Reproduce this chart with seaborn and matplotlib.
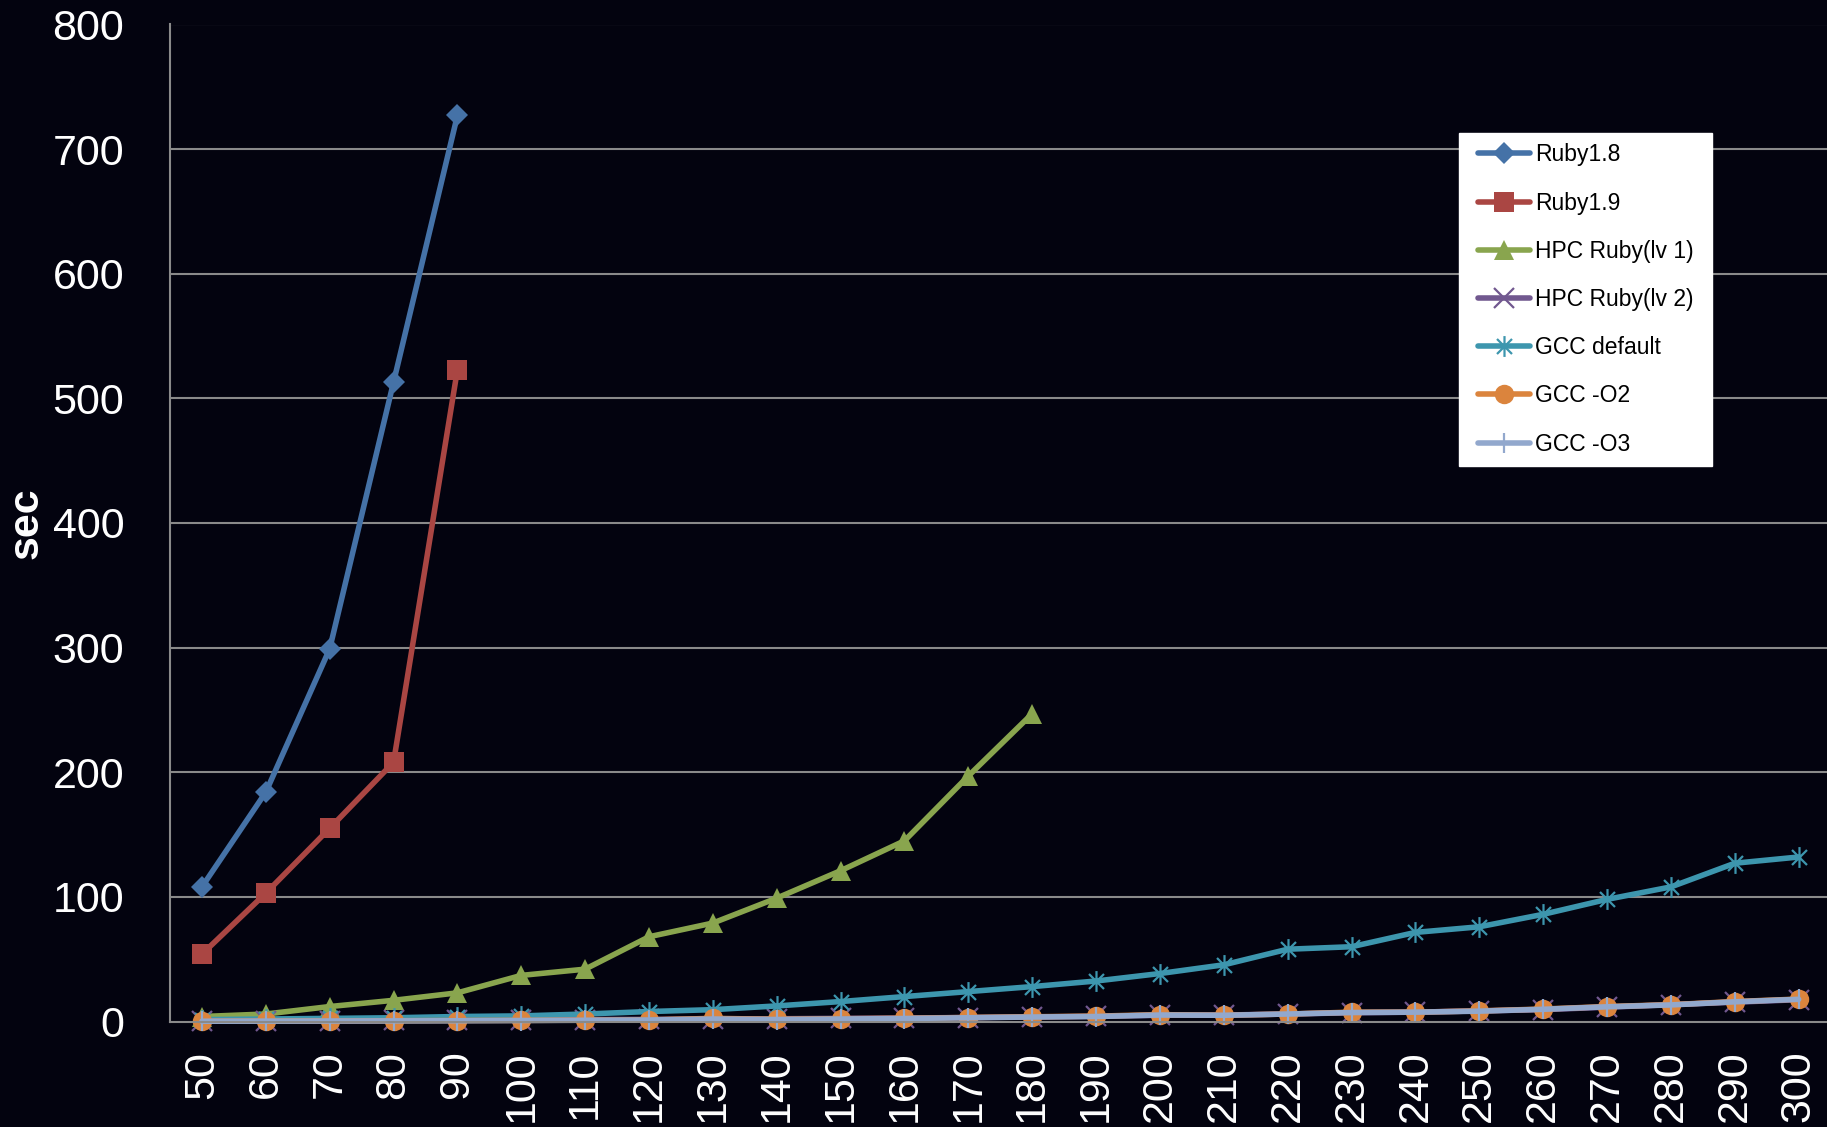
import numpy as np
import pandas as pd
import matplotlib
matplotlib.use("Agg")
import matplotlib.pyplot as plt
from matplotlib.path import Path
import seaborn as sns

nan = np.nan

# problem size (x axis categories)
sizes = [50, 60, 70, 80, 90, 100, 110, 120, 130, 140, 150, 160, 170,
         180, 190, 200, 210, 220, 230, 240, 250, 260, 270, 280, 290, 300]

# running time in seconds per implementation
ruby18 = [108, 184, 299, 513, 727] + [nan] * 21
ruby19 = [54, 103, 155, 208, 523] + [nan] * 21
hpc_lv1 = [4, 6, 12, 17, 23, 37, 42, 68, 79, 99, 121, 145, 197, 247] + [nan] * 12
hpc_lv2 = [0.5, 0.6, 0.8, 1.0, 1.1, 1.3, 1.5, 1.7, 2.0, 2.2, 2.5, 2.8, 3.2,
           3.6, 4.2, 5.0, 5.2, 6.0, 7.0, 7.5, 8.5, 9.5, 11.5, 13.5, 15.5, 17.5]
gcc_default = [1.5, 2, 2.5, 3, 4, 4.5, 6, 8, 9.5, 12.5, 16, 20, 24,
               28, 32.5, 38.5, 45.5, 58, 60, 71.5, 76, 86, 98, 108, 127, 132]
gcc_o2 = [0.3, 0.4, 0.5, 0.6, 0.8, 0.9, 1.1, 1.3, 2.5, 1.8, 2.2, 2.6, 3.2,
          3.8, 4.3, 5.5, 5.0, 6.0, 7.5, 7.5, 8.5, 10, 12, 13.5, 16, 18]
gcc_o3 = [0.2, 0.3, 0.4, 0.5, 0.6, 0.8, 1.0, 1.2, 2.0, 1.6, 2.0, 2.4, 3.0,
          3.6, 4.0, 5.2, 5.0, 6.0, 7.2, 7.5, 8.3, 9.8, 11.8, 13.3, 15.8, 17.8]

y_ticks = [0, 100, 200, 300, 400, 500, 600, 700, 800]

bg = "#03030f"
grid_c = "#8a8a8a"

sns.set_theme(style="dark")
plt.rcParams["font.family"] = ["Liberation Sans", "DejaVu Sans"]

# six-armed asterisk: vertical stroke plus a diagonal cross
star = Path([(0, -1), (0, 1), (-0.72, -0.72), (0.72, 0.72), (-0.72, 0.72), (0.72, -0.72)],
            [Path.MOVETO, Path.LINETO, Path.MOVETO, Path.LINETO, Path.MOVETO, Path.LINETO])

series = [
    ("Ruby1.8", ruby18, "#4572A7", dict(marker="D", markersize=11, markeredgewidth=0)),
    ("Ruby1.9", ruby19, "#AA4643", dict(marker="s", markersize=14, markeredgewidth=0)),
    ("HPC Ruby(lv 1)", hpc_lv1, "#89A54E", dict(marker="^", markersize=14, markeredgewidth=0)),
    ("HPC Ruby(lv 2)", hpc_lv2, "#71588F", dict(marker="x", markersize=14, markeredgewidth=1.6)),
    ("GCC default", gcc_default, "#3D96AE", dict(marker=star, markersize=15, markeredgewidth=1.6,
                                                 markerfacecolor="none")),
    ("GCC -O2", gcc_o2, "#DB843D", dict(marker="o", markersize=14, markeredgewidth=0)),
    ("GCC -O3", gcc_o3, "#92A8CD", dict(marker="|", markersize=14, markeredgewidth=1.6)),
]

fig = plt.figure(figsize=(18.27, 11.27), dpi=100, facecolor=bg)
ax = fig.add_axes([170 / 1827, 1 - 1021.5 / 1127, 1660.6 / 1827, 997 / 1127])
ax.set_facecolor(bg)

for name, vals, color, mk in series:
    df = pd.DataFrame({"size": sizes, "sec": vals}).dropna()
    sns.lineplot(data=df, x="size", y="sec", ax=ax, color=color, linewidth=4,
                 label=name, errorbar=None, markeredgecolor=color, clip_on=False, **mk)

ax.set_xlim(45, 305)
ax.set_ylim(0, 800)
ax.set_xticks(sizes)
ax.set_xticklabels([str(s) for s in sizes], rotation=90)
ax.set_yticks(y_ticks)
ax.set_yticklabels([str(t) for t in y_ticks])
ax.tick_params(axis="x", length=0, pad=21, labelsize=31, labelcolor="white")
ax.tick_params(axis="y", length=0, pad=33, labelsize=31, labelcolor="white")

ax.grid(False)
for t in y_ticks[1:]:
    ax.axhline(t, color=grid_c, linewidth=1.5, zorder=0)

for side in ("top", "right"):
    ax.spines[side].set_visible(False)
for side in ("left", "bottom"):
    ax.spines[side].set_visible(True)
    ax.spines[side].set_color(grid_c)
    ax.spines[side].set_linewidth(1.5)

ax.set_xlabel("")
ax.set_ylabel("sec", color="white", fontsize=31, fontweight="bold")
ax.yaxis.set_label_coords((26.5 - 170) / 1660.6, 0.5)
ax.yaxis.label.set_va("center")

leg = ax.legend(loc="upper right", bbox_to_anchor=((1704 - 170) / 1660.6, (1021.5 - 133) / 997),
                fontsize=16.5, frameon=True, fancybox=False, facecolor="white",
                edgecolor="white", framealpha=1, handlelength=2.3, handletextpad=0.2,
                labelspacing=1.1, borderpad=0.45, borderaxespad=0)
# wider side margins than top/bottom margins for the legend frame
leg.legendPatch.set_boxstyle("square", pad=0.35)
leg.legendPatch.set_mutation_aspect(0.01)
for txt in leg.get_texts():
    txt.set_color("black")

fig.savefig("out.png", dpi=100, facecolor=bg)
